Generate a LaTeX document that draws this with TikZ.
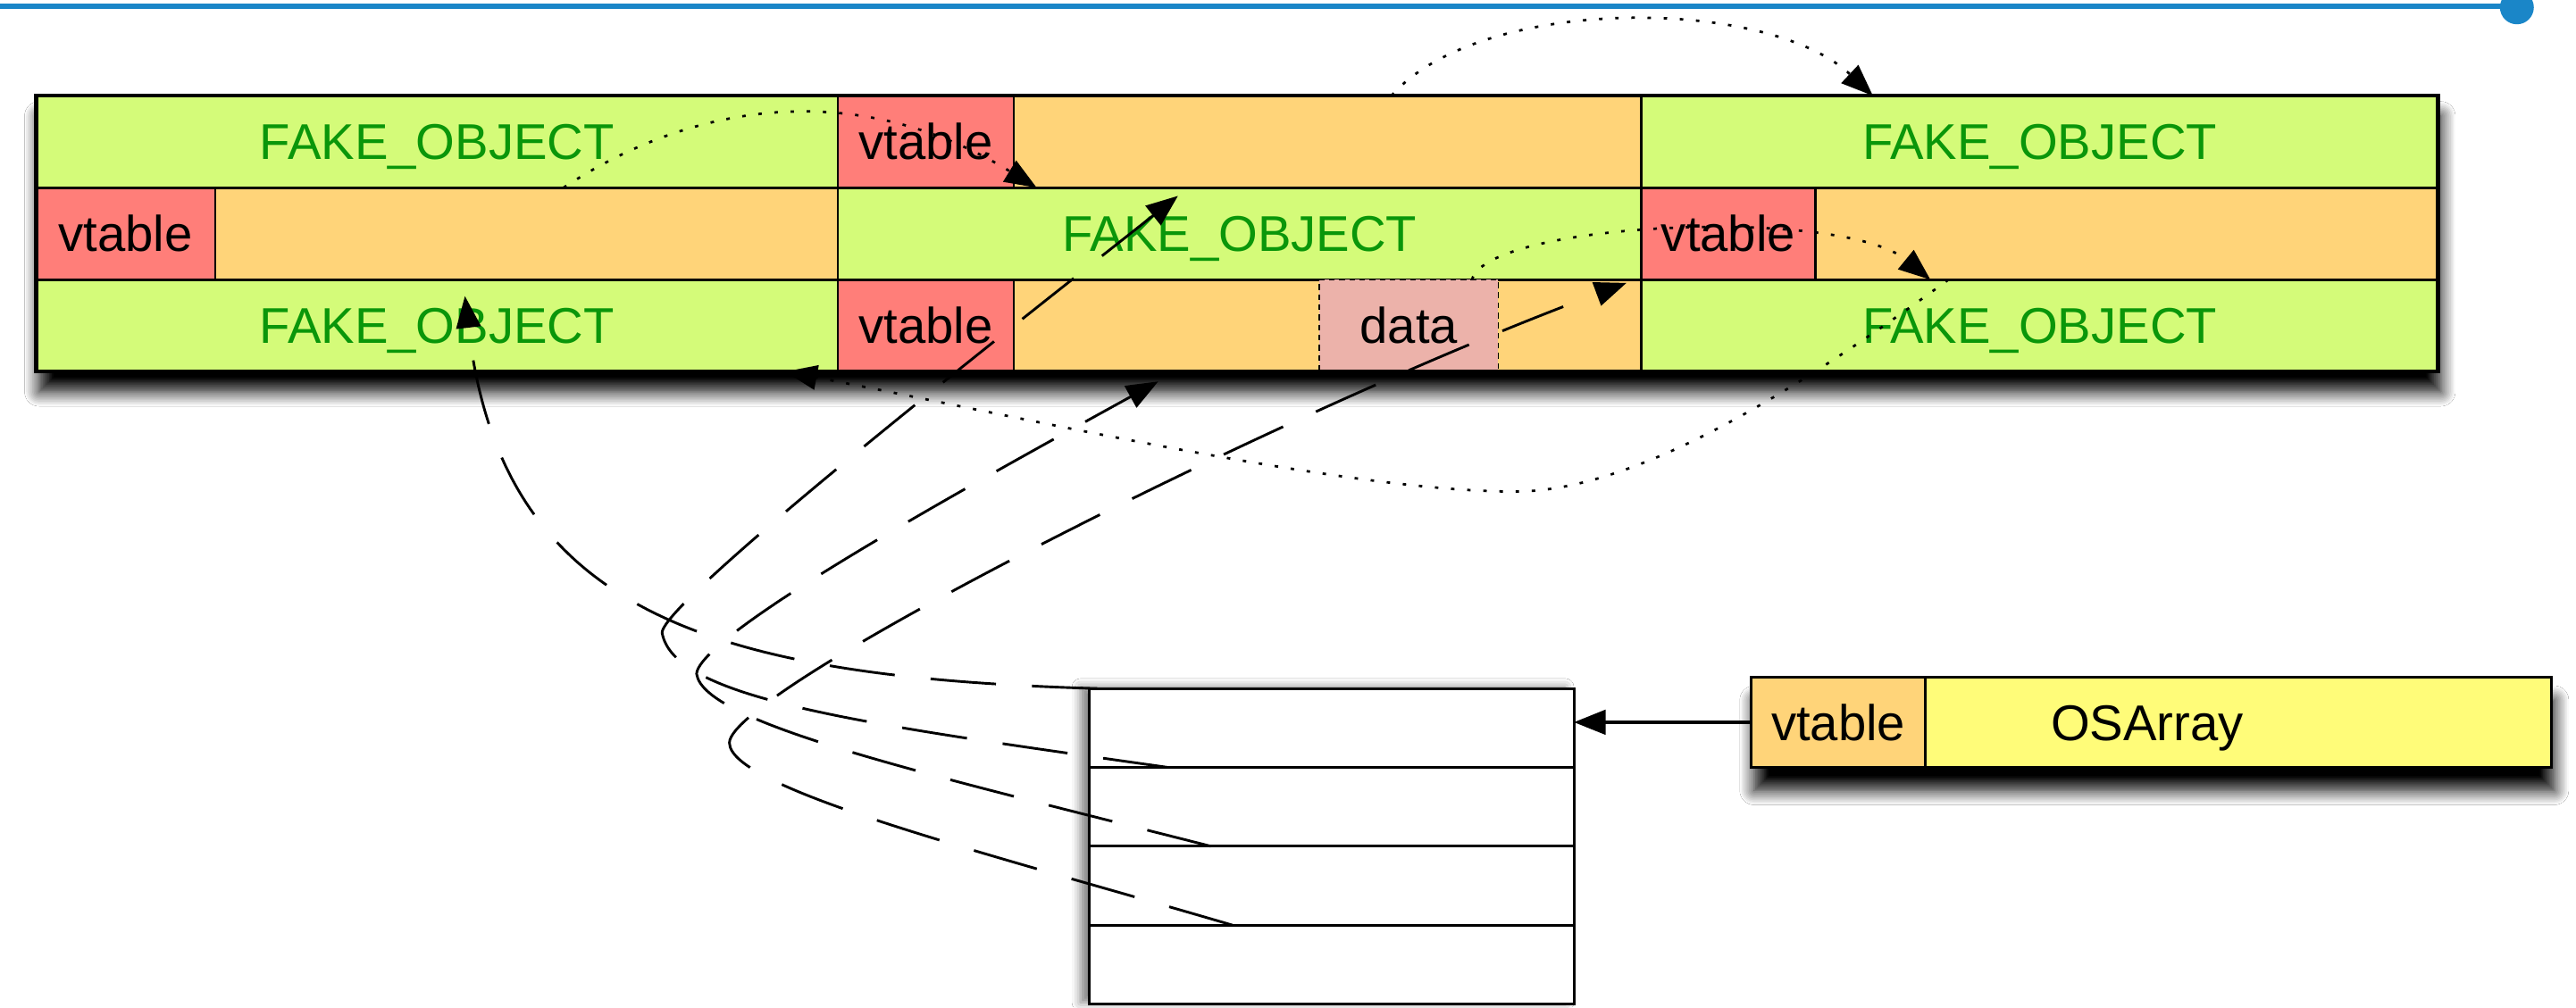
\documentclass[tikz,border=0pt]{standalone}
\usepackage{fontspec}
\setmainfont{Liberation Sans}

\definecolor{honeydew}{HTML}{D4FB79}
\definecolor{cantaloupe}{HTML}{FFD479}
\definecolor{salmon}{HTML}{FF7E79}
\definecolor{banana}{HTML}{FFFC79}
\definecolor{dataPink}{HTML}{ECB2AA}
\definecolor{clover}{HTML}{0A960A}
\definecolor{slideBlue}{HTML}{1A86C8}

\tikzset{
  cellText/.style = {font=\fontsize{17.4}{20}\selectfont, text height=12.5pt, text depth=0pt, inner sep=0pt},
  cellBox/.style = {cellText, draw, line width=0.8pt, anchor=north west, outer sep=0pt, minimum height=1.12cm},
  fakeCell/.style = {cellBox, fill=honeydew, text=clover},
  vtableCell/.style = {cellBox, fill=salmon, minimum width=2.14cm},
  objCell/.style = {cellBox, fill=cantaloupe},
  dataCell/.style = {cellBox, fill=dataPink, line width=0.5pt, dash pattern=on 2pt off 1.5pt, minimum width=2.18cm},
  slotBox/.style = {draw, line width=0.9pt, anchor=north west, outer sep=0pt, minimum width=5.9cm, minimum height=0.96cm},
  frameBox/.style = {fill=white, anchor=north west, outer sep=0pt, inner sep=0pt},
  heapShadow/.style = {blur shadow={shadow xshift=1pt, shadow yshift=-7pt, shadow blur radius=5pt, shadow blur steps=10, shadow opacity=100}},
  arrayShadow/.style = {blur shadow={shadow xshift=-3pt, shadow yshift=0.5pt, shadow blur radius=3pt, shadow opacity=50}},
  osShadow/.style = {blur shadow={shadow xshift=1pt, shadow yshift=-8pt, shadow blur radius=5pt, shadow blur steps=10, shadow opacity=100}},
  ptrSolid/.style = {->, line width=1pt},
  ptrDotted/.style = {->, line width=0.85pt, dash pattern=on 1.2pt off 4.4pt},
  ptrDashed/.style = {->, line width=0.9pt, dash pattern=on 22.7pt off 12.5pt}
}
\usetikzlibrary{calc, positioning, arrows.meta, shadows.blur}

\begin{document}
\begin{tikzpicture}[>={Triangle[length=11pt,width=8.5pt]}]
  \useasboundingbox (0,0) rectangle (31.36,12.266);
  \fill[white] (0,0) rectangle (31.36,12.266);
  \clip (0,0) rectangle (31.36,12.266);

  % rule along the top
  \draw[slideBlue, line width=2pt] (0,12.19) -- (30.64,12.19);
  \fill[slideBlue] (30.64,12.176) circle (0.206);

  % heap of fake objects
  \node[frameBox, minimum width=29.24cm, minimum height=3.36cm, heapShadow] (heap) at (0.44,11.10) {};

  \node[fakeCell, minimum width=9.76cm] (fakeA) at (heap.north west) {FAKE\_OBJECT};
  \node[vtableCell] (vtabB) at (fakeA.north east) {vtable};
  \node[objCell, minimum width=7.64cm] (objB) at (vtabB.north east) {};
  \node[fakeCell, minimum width=9.70cm] (fakeC) at (objB.north east) {FAKE\_OBJECT};

  \node[vtableCell, minimum width=2.18cm] (vtabA) at (fakeA.south west) {vtable};
  \node[objCell, minimum width=7.58cm] (objA) at (vtabA.north east) {};
  \node[fakeCell, minimum width=9.78cm] (fakeB) at (objA.north east) {FAKE\_OBJECT};
  \node[vtableCell, minimum width=2.12cm] (vtabC) at (fakeB.north east) {vtable};
  \node[objCell, minimum width=7.58cm] (objC) at (vtabC.north east) {};

  \node[fakeCell, minimum width=9.76cm] (fakeD) at (vtabA.south west) {FAKE\_OBJECT};
  \node[vtableCell] (vtabD) at (fakeD.north east) {vtable};
  \node[objCell, minimum width=7.64cm] (objD) at (vtabD.north east) {};
  \node[dataCell] (dataD) at ($(objD.north west)+(3.72,0)$) {data};
  \node[fakeCell, minimum width=9.70cm] (fakeE) at (objD.north east) {FAKE\_OBJECT};

  \draw[line width=1.3pt] (heap.north west) rectangle (heap.south east);

  % pointer array
  \node[frameBox, minimum width=5.9cm, minimum height=3.84cm, arrayShadow] (ptrArray) at (13.26,3.88) {};
  \node[slotBox] (slot0) at (ptrArray.north west) {};
  \node[slotBox] (slot1) at (slot0.south west) {};
  \node[slotBox] (slot2) at (slot1.south west) {};
  \node[slotBox] (slot3) at (slot2.south west) {};

  % the OSArray object
  \node[frameBox, minimum width=9.74cm, minimum height=1.10cm, osShadow] (osFrame) at (21.32,4.02) {};
  \node[cellBox, fill=cantaloupe, minimum width=2.12cm, minimum height=1.10cm] (osVtab) at (osFrame.north west) {vtable};
  \node[cellBox, fill=banana, minimum width=7.62cm, minimum height=1.10cm] (osBody) at (osVtab.north east) {};
  \node[cellText] (osName) at ($(osBody.west)+(2.70,0)$) {OSArray};
  \draw[line width=1.1pt] (osFrame.north west) rectangle (osFrame.south east);

  \draw[ptrSolid] (osVtab.west) -- (osVtab.west -| slot0.east);

  % vtable pointers
  \draw[ptrDotted] ($(fakeA.south)+(1.54,0)$) .. controls +(1.54,1.02) and +(-2.22,1.36) .. ($(objB.south west)+(0.28,0)$);
  \draw[ptrDotted] ($(objB.north west)+(4.60,0)$) .. controls +(1.06,1.22) and +(-1.30,1.22) .. ($(fakeC.north west)+(2.82,0)$);
  \draw[ptrDotted] ($(dataD.north)+(0.77,0)$) .. controls +(0.18,0.70) and +(-1.10,0.90) .. ($(objC.south west)+(1.40,0)$);
  \draw[ptrDotted] ($(fakeE.north west)+(3.74,0)$) .. controls +(-1.70,-1.24) and +(1.52,0.02) .. ($(heap.south)+(3.42,-1.46)$)
    .. controls +(-2.08,-0.02) and +(2.44,-0.46) .. ($(fakeD.south east)+(-0.64,0)$);

  % array slots into the heap
  \draw[ptrDashed] ($(slot0.north west)+(0.10,0)$) .. controls +(-4.76,0.14) and +(0.44,-3.84) .. ($(fakeD.north west)+(5.22,-0.20)$);
  \draw[ptrDashed] ($(slot0.south west)+(0.96,0)$) .. controls +(-3.82,0.54) and +(0.14,-0.80) .. ($(slot0.north west)+(-5.20,0.68)$)
    .. controls +(0,0.40) and +(-1.54,-1.22) .. ($(fakeB.north west)+(4.14,-0.10)$);
  \draw[ptrDashed] ($(slot1.south west)+(1.48,0)$) .. controls +(-3.54,0.90) and +(0.08,-0.60) .. ($(slot0.north west)+(-4.78,0.18)$)
    .. controls +(0.04,0.50) and +(-2.10,-1.16) .. ($(objD.south west)+(1.76,-0.12)$);
  \draw[ptrDashed] ($(slot2.south west)+(1.74,0)$) .. controls +(-3.00,0.88) and +(0,-0.56) .. ($(slot0.north west)+(-4.38,-0.66)$)
    .. controls +(0,0.64) and +(-4.20,-1.56) .. ($(objD.north east)+(-0.18,-0.04)$);
\end{tikzpicture}
\end{document}
